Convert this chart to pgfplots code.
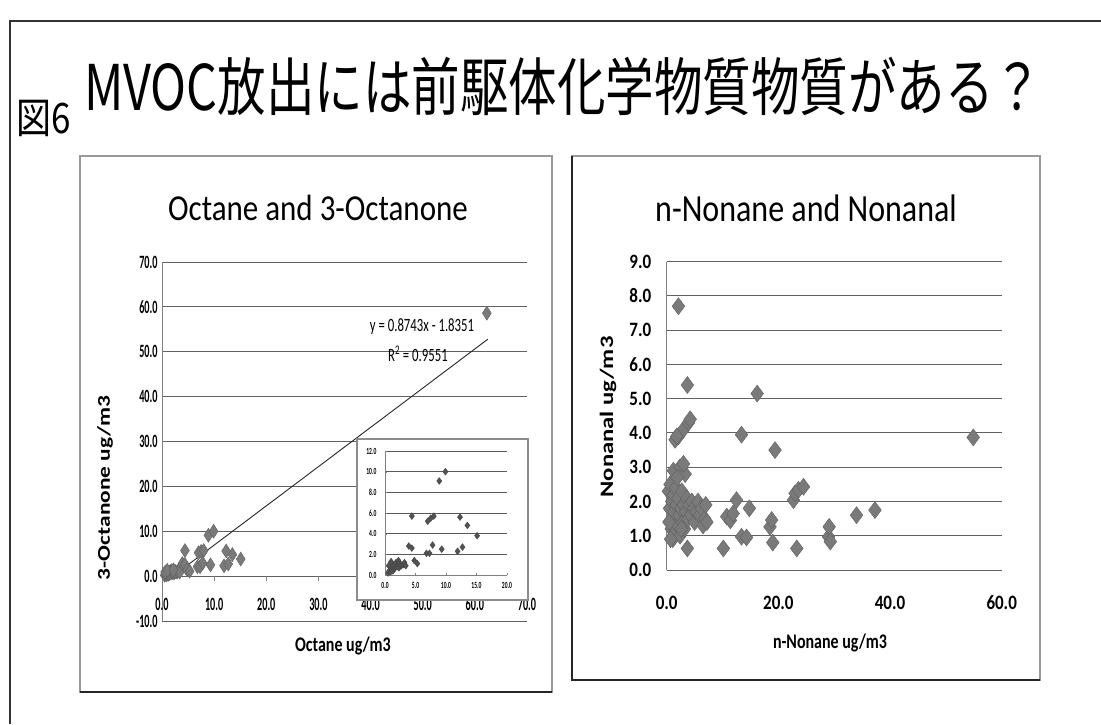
\documentclass[border=0pt]{standalone}
\usepackage{pgfplots}
\usepackage{pgfplotstable}
\pgfplotsset{compat=1.18}
\usepackage{fontspec}
\setmainfont{Carlito}
\newfontfamily\cjk{Noto Sans CJK JP}
\newcommand{\fs}[1]{\fontsize{#1}{#1}\selectfont}

\pgfplotstableread{
x y
0.5 0.2
0.7 0.4
0.9 0.3
1.0 0.6
1.1 0.5
1.2 0.8
1.3 0.4
1.4 0.9
1.5 0.6
1.6 1.0
1.7 0.7
1.8 1.2
2.0 0.8
2.1 1.0
2.3 0.7
2.5 1.1
2.7 0.9
3.0 1.0
3.2 1.2
3.4 0.9
0.6 0.9
1.0 1.3
2.2 1.4
3.9 2.8
4.4 2.6
4.8 1.4
5.3 1.1
4.4 5.7
7.0 5.2
7.5 5.5
8.0 5.7
6.8 2.1
7.3 2.1
7.8 2.9
9.3 2.5
11.9 2.3
12.7 2.7
12.3 5.6
13.5 4.8
15.1 3.8
8.9 9.1
9.9 10.0
62.3 58.6
}\octdata

\pgfplotstableread{
x y
0.3 2.3
0.5 1.8
0.6 2.5
0.8 1.2
0.9 2.0
1.0 1.5
1.1 0.9
1.2 2.2
1.3 1.7
1.5 1.1
1.6 2.4
1.7 1.9
1.9 1.3
2.0 2.1
2.2 1.6
2.4 1.0
2.5 1.8
2.7 2.3
2.9 1.4
3.0 1.9
3.2 1.2
3.4 1.7
3.6 2.1
3.8 1.5
4.0 1.9
4.3 1.6
4.5 2.0
4.8 1.8
5.0 1.4
5.3 1.7
5.6 2.0
5.9 1.6
6.2 1.8
6.5 1.3
6.8 1.5
7.0 1.9
7.2 1.4
0.4 1.4
0.7 0.9
2.6 1.2
1.2 2.9
2.4 3.0
3.3 2.8
1.9 2.7
3.0 3.1
1.5 3.8
2.1 3.9
3.0 4.1
3.9 4.3
4.2 4.4
1.8 3.9
2.1 7.7
3.7 5.4
16.2 5.15
13.4 3.95
19.4 3.5
54.9 3.87
3.7 0.63
10.15 0.63
10.75 1.56
11.4 1.45
11.9 1.65
12.5 2.04
13.4 0.97
14.3 0.95
14.8 1.8
18.5 1.26
18.8 1.46
19.0 0.8
22.7 2.04
23.0 2.24
23.6 2.34
24.5 2.43
23.3 0.63
29.0 0.97
29.1 1.26
29.3 0.83
34.0 1.6
37.3 1.75
}\nondata

\begin{document}
\begin{tikzpicture}[x=1pt,y=1pt]
\path[use as bounding box] (0,0) rectangle (1101,724);
% outer frame
\draw[black!80, line width=1.5pt] (10,0) -- (10,703) -- (1101,703);
% slide title
\node[anchor=west, inner sep=0, yscale=1.3] at (84,638) {\cjk\fs{48.5}MVOC放出には前駆体化学物質物質がある？};
\node[anchor=west, inner sep=0, yscale=1.2] at (16,606) {\cjk\fs{35}図6};
% panels
\draw[black!40, line width=2pt] (80,32) rectangle (552,568);
\draw[black!40, line width=2pt] (572,44) rectangle (1040,568);
\draw[black!85, line width=1.5pt] (572,568) -- (572,44) -- (1040,44);
\draw[black!85, line width=1.5pt] (80,32) -- (552,32);

% ---------- left chart ----------
\begin{axis}[
  at={(162pt,103pt)}, anchor=south west, scale only axis,
  width=365pt, height=359pt,
  xmin=0, xmax=70, ymin=-10, ymax=70,
  xtick={0,10,...,70}, ytick={-10,0,...,70},
  axis x line*=bottom, axis y line*=left,
  x axis line style={draw=none},
  y axis line style={draw=black!50, line width=1pt},
  major tick length=0pt,
  ymajorgrids, grid style={black!62, line width=1pt},
  /pgf/number format/fixed, /pgf/number format/fixed zerofill,
  /pgf/number format/precision=1, /pgf/number format/assume math mode=true,
  tick label style={font=\bfseries\fs{15}, xscale=0.68, yscale=1.25},
  xticklabel style={yshift=22pt},
  yticklabel style={xshift=-3pt},
  clip=false,
]
\pgfplotsinvokeforeach{10,20,...,70}{\draw[black!50, line width=0.8pt] (axis cs:#1,0) -- ([yshift=-5pt]axis cs:#1,0);}
\addplot[only marks, mark=diamond*, mark size=7pt,
  mark options={fill=black!52, draw=black!62, xscale=0.85}] table {\octdata};
\addplot[black!85, line width=0.9pt] coordinates {(1.0,-0.96) (62.5,52.81)};
\end{axis}
\node[font=\fs{15}, xscale=0.85, yscale=1.25] at (422,397) {y = 0.8743x - 1.8351};
\node[font=\fs{15}, xscale=0.85, yscale=1.25] at (418,370) {R\textsuperscript{2} = 0.9551};

% inset
\draw[black!45, line width=1.2pt, fill=white] (357,124) rectangle (528,285);
\begin{axis}[
  at={(385pt,149pt)}, anchor=south west, scale only axis,
  width=122pt, height=124pt,
  xmin=0, xmax=20, ymin=0, ymax=12,
  xtick={0,5,...,20}, ytick={0,2,...,12},
  axis x line*=bottom, axis y line*=left,
  x axis line style={draw=black!50, line width=0.8pt},
  y axis line style={draw=black!50, line width=0.8pt},
  major tick length=2pt, tick style={black!50},
  ymajorgrids, grid style={black!65, line width=0.8pt},
  /pgf/number format/fixed, /pgf/number format/fixed zerofill,
  /pgf/number format/precision=1, /pgf/number format/assume math mode=true,
  tick label style={font=\bfseries\fs{7.5}, xscale=0.75, yscale=1.25},
  xticklabel style={yshift=-2pt},
  yticklabel style={xshift=-8pt},
]
\addplot[only marks, mark=diamond*, mark size=3.4pt,
  mark options={fill=black!68, draw=black!72}] table {\octdata};
\end{axis}

% left titles & labels
\node[font=\fs{31}, yscale=1.18] at (318,516) {Octane and 3-Octanone};
\node[font=\bfseries\fs{18}, rotate=90, xscale=1.3] at (105,236) {3-Octanone ug/m3};
\node[font=\bfseries\fs{16}, yscale=1.3] at (343,78) {Octane ug/m3};

% ---------- right chart ----------
\begin{axis}[
  at={(666.7pt,154pt)}, anchor=south west, scale only axis,
  width=335pt, height=308.3pt,
  xmin=0, xmax=60, ymin=0, ymax=9,
  xtick={0,20,40,60}, ytick={0,1,...,9},
  axis x line*=bottom, axis y line*=left,
  x axis line style={draw=black!62, line width=1pt},
  y axis line style={draw=black!50, line width=1pt},
  major tick length=0pt,
  ymajorgrids, grid style={black!62, line width=1pt},
  /pgf/number format/fixed, /pgf/number format/fixed zerofill,
  /pgf/number format/precision=1, /pgf/number format/assume math mode=true,
  tick label style={font=\bfseries\fs{17}, yscale=1.2},
  xticklabel style={yshift=-18pt},
  yticklabel style={xshift=-12pt},
]
\addplot[only marks, mark=diamond*, mark size=8.5pt,
  mark options={fill=black!52, draw=black!62}] table {\nondata};
\end{axis}
\node[font=\fs{32}, yscale=1.2] at (806,516) {n-Nonane and Nonanal};
\node[font=\bfseries\fs{19}, rotate=90, xscale=1.3] at (608,307) {Nonanal ug/m3};
\node[font=\bfseries\fs{16}, yscale=1.3] at (830,81) {n-Nonane ug/m3};
\end{tikzpicture}
\end{document}
